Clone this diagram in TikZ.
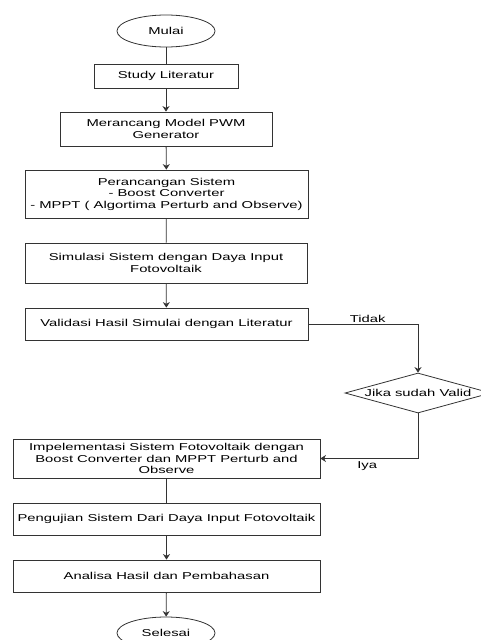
\documentclass[tikz,border=0pt]{standalone}
\usepackage{fontspec}
\setmainfont[FakeStretch=1.48]{Liberation Sans}
\usetikzlibrary{shapes.geometric,arrows.meta}

\begin{document}
\begin{tikzpicture}[x=1pt,y=-1pt,line width=0.8pt,
        >={Stealth[length=5.5pt,width=7pt]},
        boxtext/.style={font=\fontsize{10}{11.5}\selectfont},
        procbox/.style={boxtext,draw=black!80,rectangle,inner sep=0pt,align=center},
        termbox/.style={boxtext,draw=black!80,ellipse,inner sep=0pt,minimum width=98pt,minimum height=32pt},
        condbox/.style={boxtext,draw=black!80,diamond,inner sep=0pt,shape aspect=3.65,minimum width=146pt,minimum height=40pt},
        flow/.style={draw=black!80}]
        \fill[white] (0,0) rectangle (481,640);
        \useasboundingbox (0,0) rectangle (481,640);
        \node[termbox] (mulai) at (166,31) {Mulai};
        \node[procbox,minimum width=144pt,minimum height=24pt] (study_lit) at (166,76) {Study Literatur};
        \node[procbox,minimum width=212pt,minimum height=34pt] (model_pwm) at (166,129) {Merancang Model PWM\\Generator};
        \node[procbox,minimum width=283pt,minimum height=48pt] (rancang_sis) at (166.5,194) {Perancangan Sistem\\- Boost Converter\\- MPPT ( Algortima Perturb and Observe)};
        \node[procbox,minimum width=282pt,minimum height=40pt] (simulasi) at (166,263) {Simulasi Sistem dengan Daya Input\\Fotovoltaik};
        \node[procbox,minimum width=283pt,minimum height=32pt] (validasi) at (166.5,324) {Validasi Hasil Simulai dengan Literatur};
        \node[condbox] (cek_valid) at (418,393) {Jika sudah Valid};
        \node[procbox,minimum width=307pt,minimum height=39pt] (implementasi) at (166.5,458.5) {Impelementasi Sistem Fotovoltaik dengan\\Boost Converter dan MPPT Perturb and\\Observe};
        \node[procbox,minimum width=307pt,minimum height=32pt] (pengujian) at (166.5,519) {Pengujian Sistem Dari Daya Input Fotovoltaik};
        \node[procbox,minimum width=307pt,minimum height=32pt] (analisa) at (166.5,576) {Analisa Hasil dan Pembahasan};
        \node[termbox] (selesai) at (166,633) {Selesai};
        \draw[flow] (mulai) -- (study_lit);
        \draw[flow,->] (study_lit) -- (model_pwm);
        \draw[flow,->] (model_pwm) -- (rancang_sis);
        \draw[flow] (rancang_sis) -- (simulasi);
        \draw[flow,->] (simulasi) -- (validasi);
        \draw[flow,->] (validasi.east) -| node[boxtext,pos=0.27,above,inner sep=1.5pt] {Tidak} (cek_valid.north);
        \draw[flow,->] (cek_valid.south) |- node[boxtext,pos=0.76,below,inner sep=3pt] {Iya} (implementasi.east);
        \draw[flow] (implementasi) -- (pengujian);
        \draw[flow,->] (pengujian) -- (analisa);
        \draw[flow,->] (analisa) -- (selesai);
\end{tikzpicture}
\end{document}
